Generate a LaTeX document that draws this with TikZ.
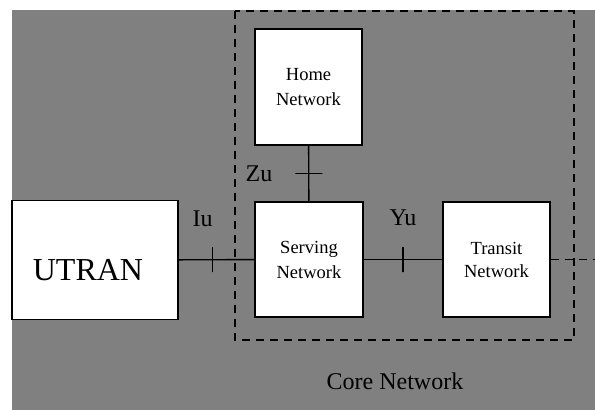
\documentclass[tikz,border=0pt]{standalone}
\usepackage{fontspec}
\setmainfont{Liberation Serif}
\usetikzlibrary{positioning}
\definecolor{bggray}{HTML}{808080}

\begin{document}
\begin{tikzpicture}[x=1pt,y=-1pt,
  netbox/.style={draw, fill=white, line width=1.6pt, inner sep=0pt, align=center,
    font=\fontsize{18.5}{25}\selectfont},
  lbl/.style={font=\fontsize{24}{24}\selectfont, inner sep=0pt},
  vtick/.style={draw, line width=1.3pt, minimum height=25pt, minimum width=0pt, inner sep=0pt},
  htick/.style={draw, line width=1.3pt, minimum width=27pt, minimum height=0pt, inner sep=0pt},
  link/.style={line width=1.4pt},
  corebox/.style={line width=1.8pt, dash pattern=on 8pt off 6pt}]
	\useasboundingbox (0,0) rectangle (595,410);
	\fill[bggray] (12,10) rectangle (595,410);

	% core network area
	\draw[corebox] (235,11) rectangle (573.7,340);

	\node[netbox, minimum width=166pt, minimum height=119pt,
	  label={[font=\fontsize{32}{32}\selectfont, xshift=-7pt, yshift=-10pt]center:UTRAN}] (utran) at (95,260) {};
	\node[netbox, minimum width=108pt, minimum height=115pt] (serving) at (309,259.5) {Serving\\Network};
	\node[netbox, minimum width=107pt, minimum height=116pt] (home) at (308.5,87) {Home\\Network};
	\node[netbox, minimum width=107pt, minimum height=115pt] (transit) at (496.5,259.5) {Transit\\[-2pt]Network};
	\coordinate (exitpt) at (595,259.5);

	% interfaces
	\draw[link] (utran) -- node[vtick, pos=0.45] (iutick) {} (serving);
	\draw[link] (serving) -- node[vtick] (yutick) {} (transit);
	\draw[link] (home) -- node[htick] (zutick) {} (serving);
	\draw[link, corebox] (transit) -- (exitpt);

	\node[lbl, above=20pt of iutick, xshift=-10pt] (iulbl) {Iu};
	\node[lbl, above=20pt of yutick] (yulbl) {Yu};
	\node[lbl, left=22pt of zutick] (zulbl) {Zu};
	\node[lbl] (corelbl) at (395,381) {Core Network};
\end{tikzpicture}
\end{document}
